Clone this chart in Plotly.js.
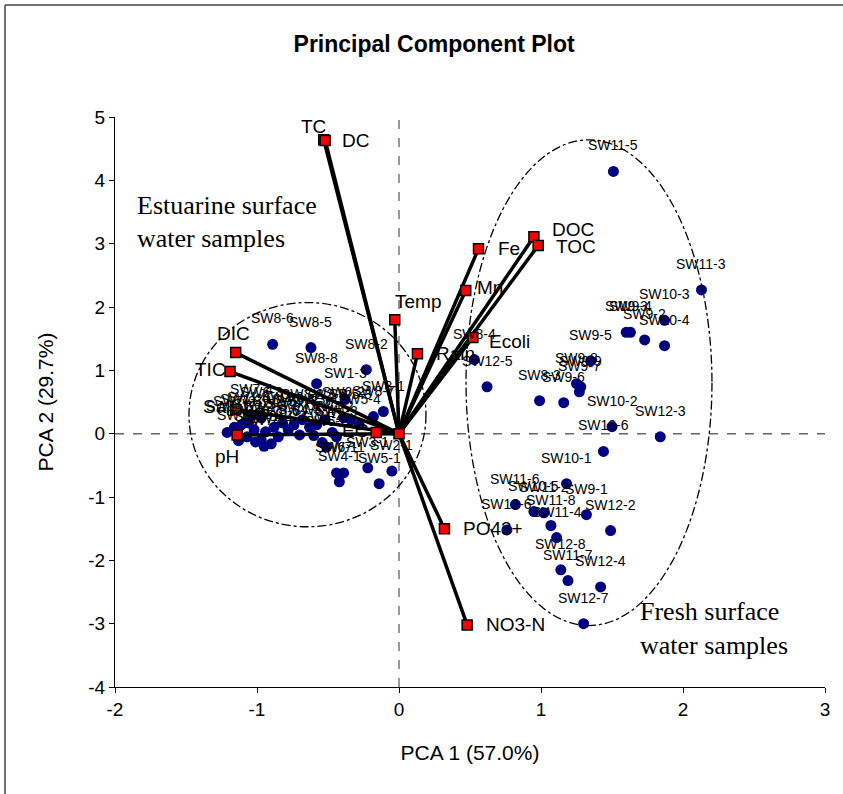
<!DOCTYPE html>
<html>
<head>
<meta charset="utf-8">
<script src="https://cdn.plot.ly/plotly-3.0.1.min.js"></script>
<style>
html,body{margin:0;padding:0;background:#fff;}
#chart{width:843px;height:794px;}
</style>
</head>
<body>
<div id="chart"></div>
<script>
// ---- Sample scores (PCA 1, PCA 2) ----
const scoreNames = [
  "SW8-6","SW8-5","SW8-2","SW8-8","SW1-3","SW8-1","SW8-7",
  "SW6-1","SW7-1","SW4-1","SW3-1","SW2-1","SW5-1",
  "SW1-1","SW1-2","SW1-4","SW1-5","SW1-6","SW1-7","SW1-8",
  "SW2-2","SW2-3","SW2-4","SW2-5","SW2-6","SW2-7","SW2-8",
  "SW3-2","SW3-3","SW3-4","SW3-5","SW4-2","SW4-3","SW4-4",
  "SW5-2","SW5-3","SW5-4","SW6-2","SW6-3","SW7-2",
  "SW3-6","SW4-5","SW6-4","SW7-3","SW7-4",
  "SW11-5","SW11-3","SW10-3","SW10-4","SW9-3","SW9-4","SW9-2","SW9-5",
  "SW8-4","SW12-5","SW9-8","SW9-9","SW9-7","SW8-3","SW9-6",
  "SW10-2","SW12-3","SW10-6","SW10-1","SW11-6","SW10-5","SW11-2",
  "SW9-1","SW11-8","SW12-6","SW12-2","SW11-4","SW12-8","SW11-7",
  "SW12-4","SW12-7"
];
const scorePC1 = [
  -0.89,-0.62,-0.23,-0.58,-0.38,-0.11,-0.18,
  -0.44,-0.39,-0.42,-0.22,-0.05,-0.14,
  -1.21,-1.11,-1.06,-1.02,-1.07,-1.13,-1.01,
  -0.97,-0.94,-0.90,-0.88,-0.82,-0.78,-0.74,
  -0.68,-0.63,-0.58,-0.52,-0.47,-0.44,-0.54,
  -0.51,-0.34,-0.28,-0.39,-0.97,-1.16,
  -0.85,-0.70,-0.60,-0.95,-1.04,
  1.51,2.13,1.87,1.87,1.60,1.63,1.73,1.35,
  0.53,0.62,1.25,1.28,1.27,0.99,1.16,
  1.50,1.84,1.44,1.18,0.82,0.95,1.02,
  1.32,1.07,0.76,1.49,1.11,1.14,1.19,
  1.42,1.30
];
const scorePC2 = [
  1.41,1.36,1.01,0.79,0.54,0.35,0.27,
  -0.62,-0.62,-0.76,-0.54,-0.59,-0.79,
  0.02,0.14,0.17,0.06,-0.05,-0.11,-0.13,
  -0.10,0.03,-0.16,0.10,0.17,0.06,0.14,
  0.22,0.10,0.14,0.22,0.02,-0.05,-0.14,
  -0.21,0.22,0.14,0.25,0.25,0.10,
  -0.05,-0.02,-0.03,-0.20,0.30,
  4.14,2.27,1.79,1.39,1.60,1.60,1.48,1.15,
  1.17,0.74,0.79,0.74,0.66,0.52,0.49,
  0.11,-0.05,-0.28,-0.79,-1.12,-1.23,-1.25,
  -1.28,-1.45,-1.52,-1.53,-1.64,-2.15,-2.32,
  -2.42,-3.00
];

// ---- Variable loadings ----
const loadNames = ["TC","DC","DOC","TOC","Fe","Mn","Temp","Ecoli","Rain","DIC","TIC","Sal","pH","EC","","PO43+","NO3-N"];
const loadPC1 = [-0.53,-0.52,0.95,0.98,0.56,0.47,-0.03,0.52,0.13,-1.15,-1.19,-1.15,-1.14,-0.16,0.00,0.32,0.48];
const loadPC2 = [4.64,4.63,3.11,2.97,2.92,2.26,1.80,1.52,1.26,1.28,0.98,0.38,-0.02,0.02,0.00,-1.50,-3.02];

// ---- Axis ticks ----
const xTickVals = [-2,-1,0,1,2,3];
const xTickText = ["-2","-1","0","1","2","3"];
const yTickVals = [-4,-3,-2,-1,0,1,2,3,4,5];
const yTickText = ["-4","-3","-2","-1","0","1","2","3","4","5"];

// label placement (style only)
const loadLabelStyle = [
  {xa:"right",xs:4,ys:13},{xa:"left",xs:15,ys:0},{xa:"left",xs:16,ys:7},{xa:"left",xs:16,ys:-1},
  {xa:"left",xs:17,ys:0},{xa:"left",xs:9,ys:3},{xa:"left",xs:-2,ys:18},{xa:"left",xs:14,ys:-4},
  {xa:"left",xs:17,ys:0},{xa:"center",xs:-2,ys:19},{xa:"right",xs:-2,ys:2},{xa:"right",xs:-4,ys:3},
  {xa:"center",xs:-10,ys:-22},{xa:"right",xs:-6,ys:2},{xa:"left",xs:0,ys:0},{xa:"left",xs:17,ys:0},
  {xa:"left",xs:17,ys:0}
];

const FONT = "Liberation Sans, Arial, sans-serif";
const SERIF = "Liberation Serif, Times New Roman, serif";

// Loading vectors from origin
const vx = [], vy = [];
for (let i = 0; i < loadNames.length; i++) {
  vx.push(0, loadPC1[i], null);
  vy.push(0, loadPC2[i], null);
}

const traces = [
  {
    type: "scatter", mode: "markers",
    x: scorePC1, y: scorePC2,
    marker: {color: "#000080", size: 11},
    hoverinfo: "text", text: scoreNames, showlegend: false
  },
  {
    type: "scatter", mode: "lines",
    x: vx, y: vy,
    line: {color: "#000", width: 3.5},
    hoverinfo: "skip", showlegend: false
  },
  {
    type: "scatter", mode: "markers",
    x: loadPC1, y: loadPC2,
    marker: {color: "#ff0000", size: 10, symbol: "square", line: {color: "#000", width: 1.5}},
    hoverinfo: "text", text: loadNames, showlegend: false
  }
];

const annotations = [];
for (let i = 0; i < scoreNames.length; i++) {
  annotations.push({
    x: scorePC1[i], y: scorePC2[i], text: scoreNames[i], showarrow: false,
    yshift: 26, font: {family: FONT, size: 14, color: "#000"}
  });
}
for (let i = 0; i < loadNames.length; i++) {
  if (!loadNames[i]) continue;
  const s = loadLabelStyle[i];
  annotations.push({
    x: loadPC1[i], y: loadPC2[i], text: loadNames[i], showarrow: false,
    xanchor: s.xa, xshift: s.xs, yshift: s.ys,
    font: {family: FONT, size: 19, color: "#000"}
  });
}
const groupText = [
  {t: "Estuarine surface", x: 0.028, y: 0.845},
  {t: "water samples", x: 0.028, y: 0.786},
  {t: "Fresh surface", x: 0.737, y: 0.132},
  {t: "water samples", x: 0.737, y: 0.073}
];
groupText.forEach(g => annotations.push({
  xref: "paper", yref: "paper", x: g.x, y: g.y, text: g.t, showarrow: false,
  xanchor: "left", yanchor: "middle", font: {family: SERIF, size: 26, color: "#000"}
}));

const shapes = [
  // zero reference lines
  {type: "line", x0: 0, x1: 0, y0: -4, y1: 5, line: {color: "#333", width: 1, dash: "dash"}, layer: "below"},
  {type: "line", x0: -2, x1: 3, y0: 0, y1: 0, line: {color: "#666", width: 1.5, dash: "dash"}, layer: "below"},
  // group ellipses
  {type: "circle", x0: -1.479, x1: 0.190, y0: -1.47, y1: 2.07, line: {color: "#000", width: 1.3, dash: "dashdot"}},
  {type: "circle", x0: 0.472, x1: 2.204, y0: -3.03, y1: 4.64, line: {color: "#000", width: 1.3, dash: "dashdot"}},
  // outer frame (top & left)
  {type: "line", xref: "paper", yref: "paper", x0: -0.1549, x1: 1.03, y0: 1.1965, y1: 1.1965, line: {color: "#444", width: 1.5}},
  {type: "line", xref: "paper", yref: "paper", x0: -0.1549, x1: -0.1549, y0: 1.1965, y1: -0.19, line: {color: "#444", width: 1.5}}
];

const layout = {
  width: 843, height: 794,
  margin: {l: 115, r: 18, t: 117, b: 107},
  paper_bgcolor: "#fff", plot_bgcolor: "#fff",
  font: {family: FONT, color: "#000"},
  title: {
    text: "<b>Principal Component Plot</b>",
    font: {family: FONT, size: 23, color: "#000"},
    xref: "container", yref: "container", x: 0.515, y: 0.945, xanchor: "center", yanchor: "middle"
  },
  xaxis: {
    range: [-2, 3], tickmode: "array", tickvals: xTickVals, ticktext: xTickText,
    showgrid: false, zeroline: false,
    showline: true, linecolor: "#000", linewidth: 1,
    ticks: "outside", ticklen: 5, tickcolor: "#000",
    tickfont: {family: FONT, size: 19},
    title: {text: "PCA 1 (57.0%)", font: {family: FONT, size: 21}, standoff: 26}
  },
  yaxis: {
    range: [-4, 5], tickmode: "array", tickvals: yTickVals, ticktext: yTickText,
    showgrid: false, zeroline: false,
    showline: true, linecolor: "#000", linewidth: 1,
    ticks: "outside", ticklen: 5, tickcolor: "#000",
    tickfont: {family: FONT, size: 19},
    title: {text: "PCA 2 (29.7%)", font: {family: FONT, size: 21}, standoff: 28}
  },
  showlegend: false,
  shapes: shapes,
  annotations: annotations
};

Plotly.newPlot("chart", traces, layout, {staticPlot: true});
</script>
</body>
</html>
